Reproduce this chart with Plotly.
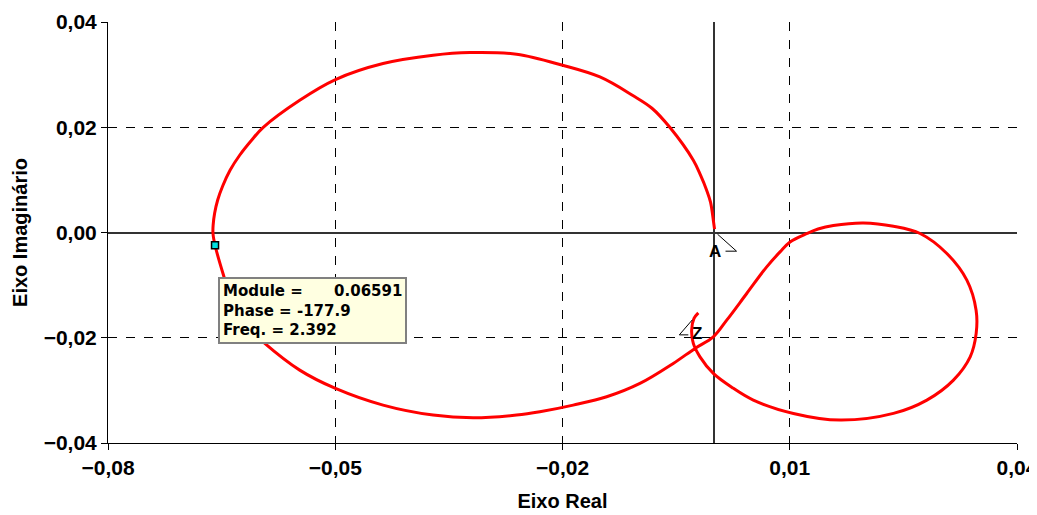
import plotly.graph_objects as go

# Nyquist-like curve (real, imaginary), from A to Z
real_part = [0.00007, -0.00009, -0.00046, -0.00097, -0.00178, -0.00273, -0.00581, -0.00819,
             -0.01066, -0.01506, -0.01999, -0.02606, -0.03223, -0.03708, -0.04369, -0.04997,
             -0.05469, -0.05954, -0.06116, -0.06262, -0.06387, -0.06486, -0.06552, -0.06592,
             -0.06612, -0.06614, -0.06587, -0.06482, -0.06367, -0.06182, -0.05954, -0.05469,
             -0.04997, -0.04369, -0.03708, -0.03180, -0.02606, -0.02299, -0.01859, -0.01417,
             -0.00978, -0.00538, -0.00251, -0.00009, 0.00168, 0.00432, 0.00696, 0.00872,
             0.01004, 0.01231, 0.01374, 0.01576, 0.01972, 0.02369, 0.02721, 0.03074,
             0.03338, 0.03460, 0.03461, 0.03382, 0.03161, 0.02810, 0.02369, 0.01664,
             0.01048, 0.00519, 0.00251, -0.00009, -0.00185, -0.00273, -0.00295, -0.00264,
             -0.00207]
imag_part = [0.00063, 0.00234, 0.00576, 0.00804, 0.01089, 0.01373, 0.01994, 0.02361,
             0.02598, 0.02955, 0.03178, 0.03387, 0.03419, 0.03368, 0.03210, 0.02906,
             0.02513, 0.01994, 0.01734, 0.01468, 0.01187, 0.00883, 0.00617, 0.00369,
             0.00139, -0.00019, -0.00242, -0.00779, -0.01286, -0.01761, -0.02078, -0.02615,
             -0.02963, -0.03280, -0.03470, -0.03521, -0.03470, -0.03407, -0.03280, -0.03122,
             -0.02868, -0.02488, -0.02203, -0.01983, -0.01666, -0.01159, -0.00653, -0.00368,
             -0.00179, -0.00017, 0.00066, 0.00133, 0.00182, 0.00120, -0.00019, -0.00399,
             -0.00906, -0.01476, -0.01918, -0.02363, -0.02805, -0.03185, -0.03438, -0.03565,
             -0.03438, -0.03185, -0.02957, -0.02678, -0.02363, -0.02108, -0.01856, -0.01633,
             -0.01527]

# Highlighted point (tooltip)
sel_real = [-0.06587]
sel_imag = [-0.00242]
tooltip_lines = ["Module =\u00a0\u00a0\u00a0\u00a0\u00a0\u00a00.06591",
                 "Phase = -177.9",
                 "Freq. = 2.392"]

x_tickvals = [-0.08, -0.05, -0.02, 0.01, 0.04]
y_tickvals = [-0.04, -0.02, 0.0, 0.02, 0.04]

FONT = "Liberation Sans, Arial, sans-serif"
TIP_FONT = "DejaVu Sans, Verdana, sans-serif"

fig = go.Figure()
fig.add_trace(go.Scatter(
    x=real_part, y=imag_part, mode="lines",
    line=dict(color="#ff0000", width=3, shape="spline", smoothing=1.0),
    hoverinfo="skip", showlegend=False))
fig.add_trace(go.Scatter(
    x=sel_real, y=sel_imag, mode="markers",
    marker=dict(symbol="square", size=7, color="#00e0e0",
                line=dict(color="black", width=1.5)),
    hoverinfo="skip", showlegend=False))

# A / Z labels with their small pointer marks
fig.add_annotation(x=real_part[0], y=imag_part[0], text="<b>A</b>", showarrow=False,
                   yshift=-22, xshift=0, font=dict(family=FONT, size=17, color="black"))
fig.add_annotation(x=real_part[-1], y=imag_part[-1], text="<b>Z</b>", showarrow=False,
                   yshift=-21, xshift=-1, font=dict(family=FONT, size=17, color="black"))
fig.add_shape(type="path", xref="x", yref="y", xsizemode="pixel", ysizemode="pixel",
              xanchor=real_part[0], yanchor=imag_part[0],
              path="M 3,-5 L 22,-22 L 11,-22", line=dict(color="black", width=1))
fig.add_shape(type="path", xref="x", yref="y", xsizemode="pixel", ysizemode="pixel",
              xanchor=real_part[-1], yanchor=imag_part[-1],
              path="M -6,-7 L -19,-22 L -10,-22", line=dict(color="black", width=1))

# tooltip box
fig.add_annotation(x=sel_real[0], y=sel_imag[0], xref="x", yref="y",
                   text="<br>".join(tooltip_lines), showarrow=False, align="left",
                   xanchor="left", yanchor="top", xshift=3, yshift=-32,
                   font=dict(family=TIP_FONT, size=15, color="black", weight="bold"),
                   bgcolor="#ffffe1", bordercolor="#808080", borderwidth=2, borderpad=3)

axis_common = dict(
    showgrid=True, gridcolor="black", griddash="dash", gridwidth=1,
    showline=True, linecolor="black", linewidth=1,
    ticks="outside", ticklen=6, tickcolor="black",
    zeroline=True, zerolinecolor="#333333", zerolinewidth=1.5,
    automargin=False, ticklabeloverflow="allow",
    tickformat=".2f", tickfont=dict(family=FONT, size=21, color="black", weight="bold"),
)

fig.update_xaxes(range=[-0.08, 0.04], tickvals=x_tickvals, **axis_common,
                 title=dict(text="Eixo Real", standoff=15,
                            font=dict(family=FONT, size=20, color="black", weight="bold")))
fig.update_yaxes(range=[-0.04, 0.04], tickvals=y_tickvals, **axis_common,
                 title=dict(text="Eixo Imaginário", standoff=10,
                            font=dict(family=FONT, size=20, color="black", weight="bold")))

# the page adds an 8px body margin, so the figure is sized to fit the 1037x515 window
fig.update_layout(
    width=1029, height=507, separators=",.",
    margin=dict(l=100, r=20, t=14, b=72),
    plot_bgcolor="white", paper_bgcolor="white",
)

fig.write_html("out.html")
